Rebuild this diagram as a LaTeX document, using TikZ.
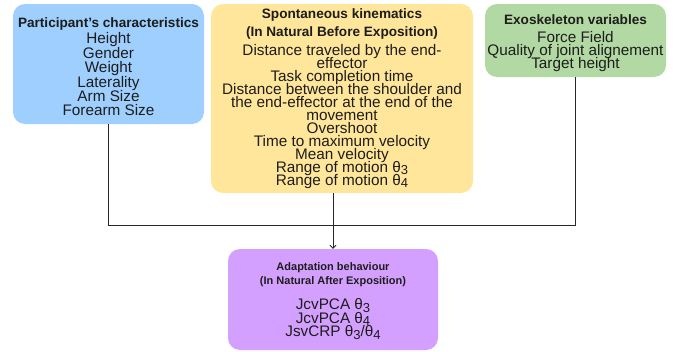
\documentclass[tikz,border=0pt]{standalone}
\usepackage{fontspec}
\setmainfont{Liberation Sans}
\usepackage{xcolor}
\usetikzlibrary{positioning,arrows.meta}
\definecolor{colorpart} {RGB}{158,207,255}
\definecolor{colorkine} {RGB}{255,230,155}
\definecolor{colorexo}  {RGB}{178,217,163}
\definecolor{coloradapt}{RGB}{212,160,255}
\definecolor{colortext} {RGB}{29 ,29 ,27 }
\definecolor{colorlink} {RGB}{40 ,40 ,40 }
\newcommand{\ttl}[1]{{\fontsize{13.6}{13.6}\selectfont\bfseries #1}}
\newcommand{\sttl}[1]{{\fontsize{11}{11}\selectfont\bfseries #1}}
\newcommand{\thsub}[1]{θ\smash{\raisebox{-2.5pt}{\fontsize{13}{13}\selectfont #1}}}
\newcommand{\boxfont}[1]{\fontsize{15.3}{#1}\selectfont\lineskiplimit=-20pt\lineskip=0pt}

\begin{document}
\begin{tikzpicture}[
    x=1pt, y=-1pt,
    base/.style={text=colortext,align=center,rectangle,rounded corners=12pt,inner sep=0pt},
    link/.style={draw=colorlink,line width=0.9pt},
]
    \useasboundingbox (0,0) rectangle (683,351);

    % Boxes
    \node[base,fill=colorpart,minimum width=191pt,minimum height=120pt,
          font={\boxfont{14.4}}] at (108.5,64) (part)
        {\rule{0pt}{16pt}\ttl{Participant's characteristics}\\[1.6pt]
         Height\\ Gender\\ Weight\\ Laterality\\ Arm Size\\ Forearm Size};
    \node[base,fill=colorkine,minimum width=262pt,minimum height=189pt,
          font={\boxfont{13}}] at (342,98.5) (kine)
        {\ttl{Spontaneous kinematics}\\[5pt]
         \ttl{(In Natural Before Exposition)}\\[6pt]
         Distance traveled by the end-\\ effector\\ Task completion time\\
         Distance between the shoulder and\\ the end-effector at the end of the\\ movement\\
         Overshoot\\ Time to maximum velocity\\ Mean velocity\\
         Range of motion \thsub{3}\\ Range of motion \thsub{4}};
    \node[base,fill=colorexo,minimum width=181pt,minimum height=73pt,
          font={\boxfont{13}}] at (575.5,40.5) (exo)
        {\rule{0pt}{16pt}\ttl{Exoskeleton variables}\\[5pt]
         Force Field\\ Quality of joint alignement\\ Target height};
    \node[base,fill=coloradapt,minimum width=210pt,minimum height=101pt,
          font={\boxfont{13.5}}] at (333,299.5) (adapt)
        {\sttl{Adaptation behaviour}\\[0.5pt]
         \sttl{(In Natural After Exposition)}\\[12pt]
         JcvPCA \thsub{3}\\ JcvPCA \thsub{4}\\ JsvCRP \thsub{3}/\thsub{4}};

    % Links
    \coordinate (join) at (333,225.5);
    \draw[link] (part.south) |- (join);
    \draw[link] (exo.south) |- (join);
    \draw[link,-{Straight Barb[length=3pt,width=6pt]}] (kine.south -| adapt.north) -- (adapt.north);

\end{tikzpicture}
\end{document}
